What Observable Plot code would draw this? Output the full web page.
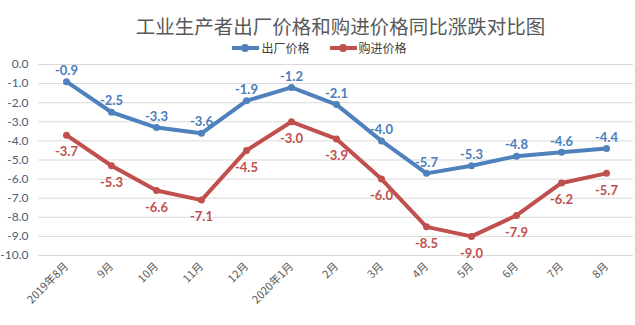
<!DOCTYPE html>
<html>
<head>
<meta charset="utf-8">
<script src="https://cdn.jsdelivr.net/npm/d3@7"></script>
<script src="https://cdn.jsdelivr.net/npm/@observablehq/plot@0.6"></script>
<style>
  body { margin: 0; background: #fff; font-family: Lato, "Noto Sans CJK SC", sans-serif; }
  #wrap { width: 635px; height: 325px; position: relative; overflow: hidden; }
  #title { height: 40px; line-height: 28px; padding-top: 12px; box-sizing: border-box; text-align: center; padding-left: 46px;
           font-family: "Noto Sans CJK SC", sans-serif; font-size: 19.5px; color: #595959; white-space: nowrap; }
  #legend { height: 16px; line-height: 16px; display: flex; justify-content: center; align-items: center; padding-left: 4px;
            font-family: "Noto Sans CJK SC", sans-serif; font-size: 12px; color: #404040; }
  .item { display: flex; align-items: center; margin: 0 10px; }
  .sw { position: relative; width: 27px; height: 4px; margin-right: 2px; }
  .sw i { position: absolute; left: 9px; top: -2px; width: 8px; height: 8px; border-radius: 50%; }
  #chart svg { display: block; }
</style>
</head>
<body>
<div id="wrap">
  <div id="title">工业生产者出厂价格和购进价格同比涨跌对比图</div>
  <div id="legend"></div>
  <div id="chart"></div>
</div>
<script>
const months = ["2019年8月","9月","10月","11月","12月","2020年1月","2月","3月","4月","5月","6月","7月","8月"];
const seriesNames = ["出厂价格","购进价格"];
const factoryPrice = [-0.9,-2.5,-3.3,-3.6,-1.9,-1.2,-2.1,-4.0,-5.7,-5.3,-4.8,-4.6,-4.4];
const purchasePrice = [-3.7,-5.3,-6.6,-7.1,-4.5,-3.0,-3.9,-6.0,-8.5,-9.0,-7.9,-6.2,-5.7];
const yTicks = [0,-1,-2,-3,-4,-5,-6,-7,-8,-9,-10];
const colors = ["#4F81BD","#C0504D"];
const labelColors = ["#4A7EBB","#C0504D"];

const legend = document.getElementById("legend");
seriesNames.forEach((n,i)=>{
  const it = document.createElement("div"); it.className="item";
  it.innerHTML = `<div class="sw" style="background:${colors[i]}"><i style="background:${colors[i]}"></i></div><span>${n}</span>`;
  legend.appendChild(it);
});

const rows = [];
months.forEach((m,i)=>{
  rows.push({month:m, value:factoryPrice[i], series:seriesNames[0]});
  rows.push({month:m, value:purchasePrice[i], series:seriesNames[1]});
});
const fac = rows.filter(d=>d.series===seriesNames[0]);
const pur = rows.filter(d=>d.series===seriesNames[1]);
const fmt = d => d.toFixed(1);

const chart = Plot.plot({
  width: 635,
  height: 269,
  marginLeft: 38,
  marginRight: 2,
  marginTop: 8,
  marginBottom: 70,
  style: {fontFamily: 'Lato, "Noto Sans CJK SC", sans-serif', background: "#fff"},
  x: {type: "point", domain: months, padding: 0.5, label: null},
  y: {domain: [-10, 0], label: null},
  marks: [
    Plot.ruleY(yTicks, {stroke: "#d9d9d9", strokeWidth: 1}),
    Plot.axisY({ticks: yTicks, tickSize: 0, tickPadding: 10, tickFormat: fmt, fontSize: 12, color: "#4d5d75"}),
    Plot.axisX({tickSize: 0, tickRotate: -45, tickPadding: 9, fontSize: 11, color: "#595959", fontFamily: '"Noto Sans CJK SC", sans-serif'}),
    Plot.line(fac, {x: "month", y: "value", stroke: colors[0], strokeWidth: 4}),
    Plot.line(pur, {x: "month", y: "value", stroke: colors[1], strokeWidth: 4}),
    Plot.dot(fac, {x: "month", y: "value", fill: colors[0], r: 3.5}),
    Plot.dot(pur, {x: "month", y: "value", fill: colors[1], r: 3.5}),
    Plot.text(fac, {x: "month", y: "value", text: d => fmt(d.value), dy: -11, fill: labelColors[0], fontSize: 13, fontWeight: "bold"}),
    Plot.text(pur, {x: "month", y: "value", text: d => fmt(d.value), dy: 17, fill: labelColors[1], fontSize: 13, fontWeight: "bold"})
  ]
});
document.getElementById("chart").appendChild(chart);
</script>
</body>
</html>
